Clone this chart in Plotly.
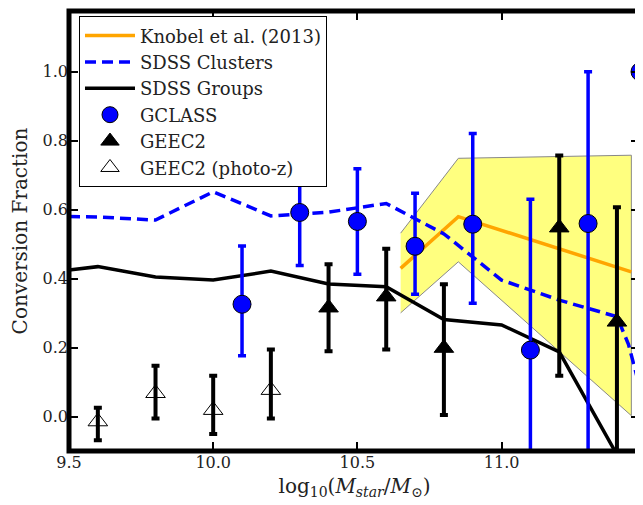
import plotly.graph_objects as go

# SDSS curves
sdss_x = [9.5, 9.6, 9.8, 10.0, 10.2, 10.4, 10.6, 10.8, 11.0, 11.2, 11.4, 11.44, 11.5]
clusters_y = [0.58, 0.579, 0.57, 0.652, 0.582, 0.593, 0.618, 0.53, 0.396, 0.338, 0.29, 0.21, 0.02]
groups_x = [9.5, 9.6, 9.8, 10.0, 10.2, 10.4, 10.6, 10.8, 11.0, 11.2, 11.4]
groups_y = [0.425, 0.435, 0.405, 0.396, 0.422, 0.385, 0.377, 0.282, 0.266, 0.188, -0.11]

# Knobel et al. (2013) with range
knobel_x = [10.65, 10.85, 11.45]
knobel_y = [0.43, 0.58, 0.42]
knobel_hi = [0.532, 0.749, 0.758]
knobel_lo = [0.301, 0.449, 0.003]

# GCLASS
gclass_x = [10.1, 10.3, 10.5, 10.7, 10.9, 11.1, 11.3, 11.48]
gclass_y = [0.326, 0.592, 0.566, 0.494, 0.558, 0.193, 0.56, 1.0]
gclass_hi = [0.495, 0.76, 0.719, 0.648, 0.821, 0.63, 1.0, 1.0]
gclass_lo = [0.177, 0.438, 0.413, 0.355, 0.329, -0.12, -0.12, 1.0]

# GEEC2
geec_x = [10.4, 10.6, 10.8, 11.2, 11.4]
geec_y = [0.316, 0.348, 0.199, 0.548, 0.275]
geec_hi = [0.442, 0.487, 0.384, 0.757, 0.607]
geec_lo = [0.19, 0.195, 0.005, 0.119, -0.12]

# GEEC2 photo-z
photz_x = [9.6, 9.8, 10.0, 10.2]
photz_y = [-0.014, 0.068, 0.019, 0.077]
photz_hi = [0.026, 0.148, 0.119, 0.195]
photz_lo = [-0.068, -0.005, -0.05, -0.005]

yticks = [0.0, 0.2, 0.4, 0.6, 0.8, 1.0]
xticks = [9.5, 10.0, 10.5, 11.0]

font = "DejaVu Serif"


def errs(y, hi, lo):
    return dict(type="data", symmetric=False,
                array=[h - v for v, h in zip(y, hi)],
                arrayminus=[v - l for v, l in zip(y, lo)])


fig = go.Figure()

# shaded band
fig.add_trace(go.Scatter(x=knobel_x + knobel_x[::-1], y=knobel_hi + knobel_lo[::-1],
                         fill="toself", fillcolor="rgba(255,255,0,0.5)",
                         line=dict(color="#888888", width=1), mode="lines",
                         showlegend=False, hoverinfo="skip"))

fig.add_trace(go.Scatter(x=knobel_x, y=knobel_y, mode="lines", name="Knobel et al. (2013)",
                         line=dict(color="orange", width=3.5), legendrank=1, legendgroup="a"))
fig.add_trace(go.Scatter(x=sdss_x, y=clusters_y, mode="lines", name="SDSS Clusters",
                         line=dict(color="blue", width=3.5, dash="11px,6px"), legendrank=2,
                         legendgroup="b"))
fig.add_trace(go.Scatter(x=groups_x, y=groups_y, mode="lines", name="SDSS Groups",
                         line=dict(color="black", width=3.5), legendrank=3, legendgroup="c"))

fig.add_trace(go.Scatter(x=photz_x, y=photz_y, mode="markers", name="GEEC2 (photo-z)",
                         marker=dict(symbol="triangle-up-open", size=17, color="black",
                                     line=dict(color="black", width=1)),
                         error_y=dict(**errs(photz_y, photz_hi, photz_lo), color="black",
                                      thickness=4, width=4), legendrank=6, legendgroup="f"))
fig.add_trace(go.Scatter(x=geec_x, y=geec_y, mode="markers", name="GEEC2",
                         marker=dict(symbol="triangle-up", size=17, color="black",
                                     line=dict(color="black", width=1)),
                         error_y=dict(**errs(geec_y, geec_hi, geec_lo), color="black",
                                      thickness=4, width=4), legendrank=5, legendgroup="e"))
fig.add_trace(go.Scatter(x=gclass_x, y=gclass_y, mode="markers", name="GCLASS",
                         marker=dict(symbol="circle", size=18, color="blue",
                                     line=dict(color="black", width=1)),
                         error_y=dict(**errs(gclass_y, gclass_hi, gclass_lo), color="blue",
                                      thickness=3.5, width=4), legendrank=4, legendgroup="d"))

axis_common = dict(showline=False, mirror="ticks",
                   ticks="inside", ticklen=9, tickwidth=1.5, tickcolor="black",
                   showgrid=False, zeroline=False, automargin=False,
                   tickfont=dict(family=font, size=16, color="#222"))

# thick frame like matplotlib spines, centred on the plot edge
fig.add_shape(type="rect", xref="paper", yref="paper", x0=0, x1=1, y0=0, y1=1,
              line=dict(color="black", width=5), layer="above")

# page body adds an 8px offset, so the figure is sized to fit the rest of the window
fig.update_layout(
    width=635, height=497,
    margin=dict(l=61, r=3, t=3, b=54),
    plot_bgcolor="white", paper_bgcolor="white",
    font=dict(family=font, color="#222"),
    xaxis=dict(range=[9.5, 11.48], tickvals=xticks, ticktext=[f"{v:.1f}" for v in xticks],
               title=dict(text="log<sub>10</sub>(<i>M<sub>star</sub></i>/<i>M</i><sub>⊙</sub>)",
                          font=dict(family=font, size=20), standoff=7),
               **axis_common),
    yaxis=dict(range=[-0.0994, 1.176], tickvals=yticks, ticktext=[f"{v:.1f}" for v in yticks],
               title=dict(text="Conversion Fraction", font=dict(family=font, size=20), standoff=9),
               **axis_common),
    legend=dict(x=0.0175, y=0.988, xanchor="left", yanchor="top",
                bgcolor="white", bordercolor="black", borderwidth=1,
                font=dict(family=font, size=18, color="#222"),
                itemwidth=50, tracegroupgap=0),
)

fig.write_html("out.html")
